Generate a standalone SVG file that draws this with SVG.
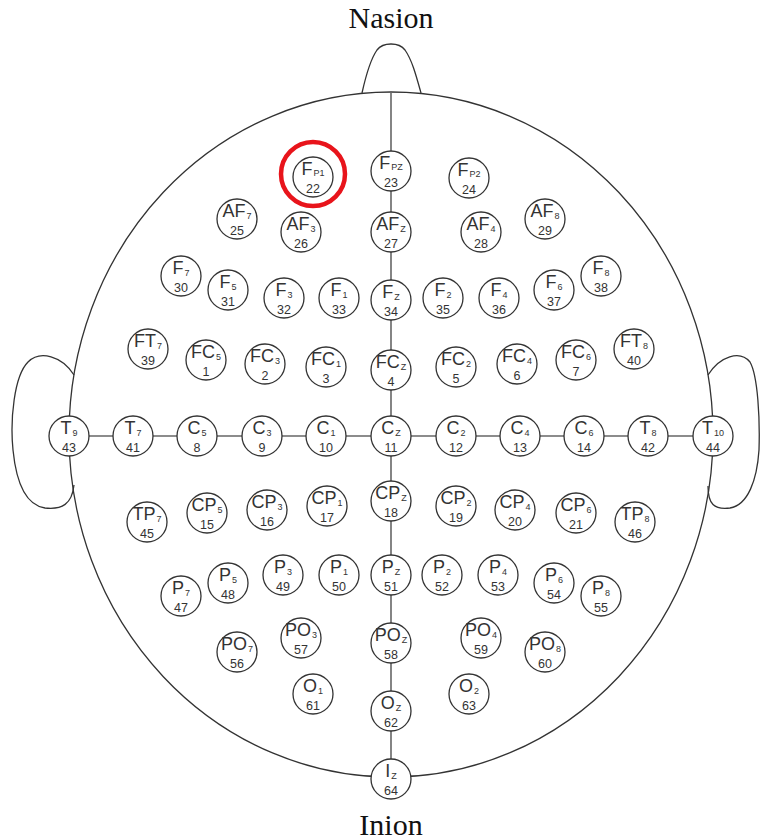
<svg xmlns="http://www.w3.org/2000/svg" width="761" height="840" viewBox="0 0 761 840">
<style>
.bg{fill:#fff}
.head{fill:none;stroke:#333;stroke-width:1.3}
.conn{stroke:#666;stroke-width:1.6;fill:none}
.el circle{fill:#fff;stroke:#333;stroke-width:1.3}
.lb{font-family:"Liberation Sans",Arial,sans-serif;font-size:18px;fill:#333;text-anchor:middle}
.sb{font-size:9px}
.nm{font-family:"Liberation Sans",Arial,sans-serif;font-size:12.5px;fill:#333;text-anchor:middle}
.big{font-family:"Liberation Serif","Times New Roman",serif;font-size:30px;fill:#111;text-anchor:middle}
.mark{fill:none;stroke:#e8141b;stroke-width:4.5}
</style>
<rect class="bg" x="0" y="0" width="761" height="840"/>
<g id="head">
<ellipse class="head" cx="391" cy="434.5" rx="322" ry="342.5"/>
<path class="head" d="M362,93 C366,75 370,60 377,50 C383,42 399,42 405,50 C412,60 416,75 421,93"/>
<path class="head" d="M74,375 C62,356 40,350 28,362 C14,376 10,420 13,450 C16,480 25,505 45,508 C62,510 72,504 74,485"/>
<path class="head" d="M708,375 C720,356 740,350 750,362 C758,376 760,420 759,450 C757,480 748,505 730,508 C714,510 708,504 708,486"/>
</g>
<text class="big" x="391" y="28">Nasion</text>
<text class="big" x="391" y="835">Inion</text>
<g id="connectors">
<line class="conn" x1="391" y1="92" x2="391" y2="779"/>
<line class="conn" x1="69" y1="436" x2="713" y2="436"/>
</g>
<g id="Fp1" class="el"><circle cx="313" cy="177" r="20"/><text class="lb" x="313" y="175">F<tspan class="sb" dx="1" dy="1">P1</tspan></text><text class="nm" x="313" y="192.5">22</text></g>
<g id="Fpz" class="el"><circle cx="391" cy="171" r="20"/><text class="lb" x="391" y="169">F<tspan class="sb" dx="1" dy="1">PZ</tspan></text><text class="nm" x="391" y="186.5">23</text></g>
<g id="Fp2" class="el"><circle cx="469" cy="178" r="20"/><text class="lb" x="469" y="176">F<tspan class="sb" dx="1" dy="1">P2</tspan></text><text class="nm" x="469" y="193.5">24</text></g>
<g id="AF7" class="el"><circle cx="237" cy="219" r="20"/><text class="lb" x="237" y="217">AF<tspan class="sb" dx="1" dy="2">7</tspan></text><text class="nm" x="237" y="234.5">25</text></g>
<g id="AF3" class="el"><circle cx="301" cy="232" r="20"/><text class="lb" x="301" y="230">AF<tspan class="sb" dx="1" dy="2">3</tspan></text><text class="nm" x="301" y="247.5">26</text></g>
<g id="AFz" class="el"><circle cx="391" cy="232" r="20"/><text class="lb" x="391" y="230">AF<tspan class="sb" dx="1" dy="2">Z</tspan></text><text class="nm" x="391" y="247.5">27</text></g>
<g id="AF4" class="el"><circle cx="481" cy="232" r="20"/><text class="lb" x="481" y="230">AF<tspan class="sb" dx="1" dy="2">4</tspan></text><text class="nm" x="481" y="247.5">28</text></g>
<g id="AF8" class="el"><circle cx="545" cy="219" r="20"/><text class="lb" x="545" y="217">AF<tspan class="sb" dx="1" dy="2">8</tspan></text><text class="nm" x="545" y="234.5">29</text></g>
<g id="F7" class="el"><circle cx="181" cy="276" r="20"/><text class="lb" x="181" y="274">F<tspan class="sb" dx="1" dy="2">7</tspan></text><text class="nm" x="181" y="291.5">30</text></g>
<g id="F5" class="el"><circle cx="228" cy="290" r="20"/><text class="lb" x="228" y="288">F<tspan class="sb" dx="1" dy="2">5</tspan></text><text class="nm" x="228" y="305.5">31</text></g>
<g id="F3" class="el"><circle cx="284" cy="298" r="20"/><text class="lb" x="284" y="296">F<tspan class="sb" dx="1" dy="2">3</tspan></text><text class="nm" x="284" y="313.5">32</text></g>
<g id="F1" class="el"><circle cx="339" cy="298" r="20"/><text class="lb" x="339" y="296">F<tspan class="sb" dx="1" dy="2">1</tspan></text><text class="nm" x="339" y="313.5">33</text></g>
<g id="Fz" class="el"><circle cx="391" cy="300" r="20"/><text class="lb" x="391" y="298">F<tspan class="sb" dx="1" dy="2">Z</tspan></text><text class="nm" x="391" y="315.5">34</text></g>
<g id="F2" class="el"><circle cx="443" cy="298" r="20"/><text class="lb" x="443" y="296">F<tspan class="sb" dx="1" dy="2">2</tspan></text><text class="nm" x="443" y="313.5">35</text></g>
<g id="F4" class="el"><circle cx="499" cy="298" r="20"/><text class="lb" x="499" y="296">F<tspan class="sb" dx="1" dy="2">4</tspan></text><text class="nm" x="499" y="313.5">36</text></g>
<g id="F6" class="el"><circle cx="554" cy="290" r="20"/><text class="lb" x="554" y="288">F<tspan class="sb" dx="1" dy="2">6</tspan></text><text class="nm" x="554" y="305.5">37</text></g>
<g id="F8" class="el"><circle cx="601" cy="276" r="20"/><text class="lb" x="601" y="274">F<tspan class="sb" dx="1" dy="2">8</tspan></text><text class="nm" x="601" y="291.5">38</text></g>
<g id="FT7" class="el"><circle cx="148" cy="349" r="20"/><text class="lb" x="148" y="347">FT<tspan class="sb" dx="1" dy="2">7</tspan></text><text class="nm" x="148" y="364.5">39</text></g>
<g id="FC5" class="el"><circle cx="206" cy="360" r="20"/><text class="lb" x="206" y="358">FC<tspan class="sb" dx="1" dy="2">5</tspan></text><text class="nm" x="206" y="375.5">1</text></g>
<g id="FC3" class="el"><circle cx="265" cy="364" r="20"/><text class="lb" x="265" y="362">FC<tspan class="sb" dx="1" dy="2">3</tspan></text><text class="nm" x="265" y="379.5">2</text></g>
<g id="FC1" class="el"><circle cx="326" cy="367" r="20"/><text class="lb" x="326" y="365">FC<tspan class="sb" dx="1" dy="2">1</tspan></text><text class="nm" x="326" y="382.5">3</text></g>
<g id="FCz" class="el"><circle cx="391" cy="370" r="20"/><text class="lb" x="391" y="368">FC<tspan class="sb" dx="1" dy="2">Z</tspan></text><text class="nm" x="391" y="385.5">4</text></g>
<g id="FC2" class="el"><circle cx="456" cy="367" r="20"/><text class="lb" x="456" y="365">FC<tspan class="sb" dx="1" dy="2">2</tspan></text><text class="nm" x="456" y="382.5">5</text></g>
<g id="FC4" class="el"><circle cx="517" cy="364" r="20"/><text class="lb" x="517" y="362">FC<tspan class="sb" dx="1" dy="2">4</tspan></text><text class="nm" x="517" y="379.5">6</text></g>
<g id="FC6" class="el"><circle cx="576" cy="360" r="20"/><text class="lb" x="576" y="358">FC<tspan class="sb" dx="1" dy="2">6</tspan></text><text class="nm" x="576" y="375.5">7</text></g>
<g id="FT8" class="el"><circle cx="634" cy="349" r="20"/><text class="lb" x="634" y="347">FT<tspan class="sb" dx="1" dy="2">8</tspan></text><text class="nm" x="634" y="364.5">40</text></g>
<g id="T9" class="el"><circle cx="69" cy="436" r="20"/><text class="lb" x="69" y="434">T<tspan class="sb" dx="1" dy="2">9</tspan></text><text class="nm" x="69" y="451.5">43</text></g>
<g id="T7" class="el"><circle cx="133" cy="436" r="20"/><text class="lb" x="133" y="434">T<tspan class="sb" dx="1" dy="2">7</tspan></text><text class="nm" x="133" y="451.5">41</text></g>
<g id="C5" class="el"><circle cx="197" cy="436" r="20"/><text class="lb" x="197" y="434">C<tspan class="sb" dx="1" dy="2">5</tspan></text><text class="nm" x="197" y="451.5">8</text></g>
<g id="C3" class="el"><circle cx="262" cy="436" r="20"/><text class="lb" x="262" y="434">C<tspan class="sb" dx="1" dy="2">3</tspan></text><text class="nm" x="262" y="451.5">9</text></g>
<g id="C1" class="el"><circle cx="326" cy="436" r="20"/><text class="lb" x="326" y="434">C<tspan class="sb" dx="1" dy="2">1</tspan></text><text class="nm" x="326" y="451.5">10</text></g>
<g id="Cz" class="el"><circle cx="391" cy="436" r="20"/><text class="lb" x="391" y="434">C<tspan class="sb" dx="1" dy="2">Z</tspan></text><text class="nm" x="391" y="451.5">11</text></g>
<g id="C2" class="el"><circle cx="456" cy="436" r="20"/><text class="lb" x="456" y="434">C<tspan class="sb" dx="1" dy="2">2</tspan></text><text class="nm" x="456" y="451.5">12</text></g>
<g id="C4" class="el"><circle cx="520" cy="436" r="20"/><text class="lb" x="520" y="434">C<tspan class="sb" dx="1" dy="2">4</tspan></text><text class="nm" x="520" y="451.5">13</text></g>
<g id="C6" class="el"><circle cx="584" cy="436" r="20"/><text class="lb" x="584" y="434">C<tspan class="sb" dx="1" dy="2">6</tspan></text><text class="nm" x="584" y="451.5">14</text></g>
<g id="T8" class="el"><circle cx="648" cy="436" r="20"/><text class="lb" x="648" y="434">T<tspan class="sb" dx="1" dy="2">8</tspan></text><text class="nm" x="648" y="451.5">42</text></g>
<g id="T10" class="el"><circle cx="713" cy="436" r="20"/><text class="lb" x="713" y="434">T<tspan class="sb" dx="1" dy="2">10</tspan></text><text class="nm" x="713" y="451.5">44</text></g>
<g id="TP7" class="el"><circle cx="147" cy="522" r="20"/><text class="lb" x="147" y="520">TP<tspan class="sb" dx="1" dy="2">7</tspan></text><text class="nm" x="147" y="537.5">45</text></g>
<g id="CP5" class="el"><circle cx="207" cy="513" r="20"/><text class="lb" x="207" y="511">CP<tspan class="sb" dx="1" dy="2">5</tspan></text><text class="nm" x="207" y="528.5">15</text></g>
<g id="CP3" class="el"><circle cx="267" cy="510" r="20"/><text class="lb" x="267" y="508">CP<tspan class="sb" dx="1" dy="2">3</tspan></text><text class="nm" x="267" y="525.5">16</text></g>
<g id="CP1" class="el"><circle cx="327" cy="506" r="20"/><text class="lb" x="327" y="504">CP<tspan class="sb" dx="1" dy="2">1</tspan></text><text class="nm" x="327" y="521.5">17</text></g>
<g id="CPz" class="el"><circle cx="391" cy="501" r="20"/><text class="lb" x="391" y="499">CP<tspan class="sb" dx="1" dy="2">Z</tspan></text><text class="nm" x="391" y="516.5">18</text></g>
<g id="CP2" class="el"><circle cx="456" cy="506" r="20"/><text class="lb" x="456" y="504">CP<tspan class="sb" dx="1" dy="2">2</tspan></text><text class="nm" x="456" y="521.5">19</text></g>
<g id="CP4" class="el"><circle cx="515" cy="510" r="20"/><text class="lb" x="515" y="508">CP<tspan class="sb" dx="1" dy="2">4</tspan></text><text class="nm" x="515" y="525.5">20</text></g>
<g id="CP6" class="el"><circle cx="576" cy="513" r="20"/><text class="lb" x="576" y="511">CP<tspan class="sb" dx="1" dy="2">6</tspan></text><text class="nm" x="576" y="528.5">21</text></g>
<g id="TP8" class="el"><circle cx="635" cy="522" r="20"/><text class="lb" x="635" y="520">TP<tspan class="sb" dx="1" dy="2">8</tspan></text><text class="nm" x="635" y="537.5">46</text></g>
<g id="P7" class="el"><circle cx="181" cy="596" r="20"/><text class="lb" x="181" y="594">P<tspan class="sb" dx="1" dy="2">7</tspan></text><text class="nm" x="181" y="611.5">47</text></g>
<g id="P5" class="el"><circle cx="228" cy="583" r="20"/><text class="lb" x="228" y="581">P<tspan class="sb" dx="1" dy="2">5</tspan></text><text class="nm" x="228" y="598.5">48</text></g>
<g id="P3" class="el"><circle cx="283" cy="575" r="20"/><text class="lb" x="283" y="573">P<tspan class="sb" dx="1" dy="2">3</tspan></text><text class="nm" x="283" y="590.5">49</text></g>
<g id="P1" class="el"><circle cx="339" cy="575" r="20"/><text class="lb" x="339" y="573">P<tspan class="sb" dx="1" dy="2">1</tspan></text><text class="nm" x="339" y="590.5">50</text></g>
<g id="Pz" class="el"><circle cx="391" cy="575" r="20"/><text class="lb" x="391" y="573">P<tspan class="sb" dx="1" dy="2">Z</tspan></text><text class="nm" x="391" y="590.5">51</text></g>
<g id="P2" class="el"><circle cx="442" cy="575" r="20"/><text class="lb" x="442" y="573">P<tspan class="sb" dx="1" dy="2">2</tspan></text><text class="nm" x="442" y="590.5">52</text></g>
<g id="P4" class="el"><circle cx="498" cy="575" r="20"/><text class="lb" x="498" y="573">P<tspan class="sb" dx="1" dy="2">4</tspan></text><text class="nm" x="498" y="590.5">53</text></g>
<g id="P6" class="el"><circle cx="554" cy="583" r="20"/><text class="lb" x="554" y="581">P<tspan class="sb" dx="1" dy="2">6</tspan></text><text class="nm" x="554" y="598.5">54</text></g>
<g id="P8" class="el"><circle cx="601" cy="596" r="20"/><text class="lb" x="601" y="594">P<tspan class="sb" dx="1" dy="2">8</tspan></text><text class="nm" x="601" y="611.5">55</text></g>
<g id="PO7" class="el"><circle cx="237" cy="652" r="20"/><text class="lb" x="237" y="650">PO<tspan class="sb" dx="1" dy="2">7</tspan></text><text class="nm" x="237" y="667.5">56</text></g>
<g id="PO3" class="el"><circle cx="301" cy="638" r="20"/><text class="lb" x="301" y="636">PO<tspan class="sb" dx="1" dy="2">3</tspan></text><text class="nm" x="301" y="653.5">57</text></g>
<g id="POz" class="el"><circle cx="391" cy="643" r="20"/><text class="lb" x="391" y="641">PO<tspan class="sb" dx="1" dy="2">Z</tspan></text><text class="nm" x="391" y="658.5">58</text></g>
<g id="PO4" class="el"><circle cx="481" cy="638" r="20"/><text class="lb" x="481" y="636">PO<tspan class="sb" dx="1" dy="2">4</tspan></text><text class="nm" x="481" y="653.5">59</text></g>
<g id="PO8" class="el"><circle cx="545" cy="652" r="20"/><text class="lb" x="545" y="650">PO<tspan class="sb" dx="1" dy="2">8</tspan></text><text class="nm" x="545" y="667.5">60</text></g>
<g id="O1" class="el"><circle cx="313" cy="694" r="20"/><text class="lb" x="313" y="692">O<tspan class="sb" dx="1" dy="2">1</tspan></text><text class="nm" x="313" y="709.5">61</text></g>
<g id="Oz" class="el"><circle cx="391" cy="711" r="20"/><text class="lb" x="391" y="709">O<tspan class="sb" dx="1" dy="2">Z</tspan></text><text class="nm" x="391" y="726.5">62</text></g>
<g id="O2" class="el"><circle cx="469" cy="694" r="20"/><text class="lb" x="469" y="692">O<tspan class="sb" dx="1" dy="2">2</tspan></text><text class="nm" x="469" y="709.5">63</text></g>
<g id="Iz" class="el"><circle cx="391" cy="779" r="20"/><text class="lb" x="391" y="777">I<tspan class="sb" dx="1" dy="2">Z</tspan></text><text class="nm" x="391" y="794.5">64</text></g>
<circle id="highlight" class="mark" cx="313" cy="174" r="32"/>
</svg>
